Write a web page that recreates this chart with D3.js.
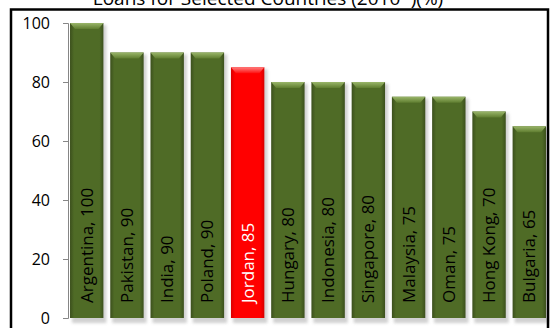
<!DOCTYPE html>
<html>
<head>
<meta charset="utf-8">
<script src="https://cdn.jsdelivr.net/npm/d3@7"></script>
<style>
  body { margin: 0; background: #fff; }
  text { font-family: "Open Sans", "Noto Sans", sans-serif; }
</style>
</head>
<body>
<svg id="chart" width="550" height="328"></svg>
<script>
// data
var countries = ["Argentina", "Pakistan", "India", "Poland", "Jordan", "Hungary", "Indonesia", "Singapore", "Malaysia", "Oman", "Hong Kong", "Bulgaria"];
var shares = [100, 90, 90, 90, 85, 80, 80, 80, 75, 75, 70, 65];
var yTicks = [0, 20, 40, 60, 80, 100];
var highlight = "Jordan";
var title = "Loans for Selected Countries (2010*)(%)";

var svg = d3.select("#chart");

var x = d3.scaleBand()
    .domain(countries)
    .range([68, 548])
    .paddingInner(0.17)
    .paddingOuter(0.05);

var y = d3.scaleLinear()
    .domain([0, 100])
    .range([318, 23]);

// gradients for the bevelled bars
var defs = svg.append("defs");
function barGrad(id, edge, mid) {
    var g = defs.append("linearGradient").attr("id", id)
        .attr("x1", "0").attr("x2", "1").attr("y1", "0").attr("y2", "0");
    g.append("stop").attr("offset", "0").attr("stop-color", edge);
    g.append("stop").attr("offset", "0.12").attr("stop-color", mid);
    g.append("stop").attr("offset", "0.88").attr("stop-color", mid);
    g.append("stop").attr("offset", "1").attr("stop-color", edge);
}
barGrad("gGreen", "#3c501d", "#4f6b26");
barGrad("gRed", "#d80000", "#ff0000");
function topGrad(id, top, bottom) {
    var g = defs.append("linearGradient").attr("id", id)
        .attr("x1", "0").attr("x2", "0").attr("y1", "0").attr("y2", "1");
    g.append("stop").attr("offset", "0").attr("stop-color", top);
    g.append("stop").attr("offset", "1").attr("stop-color", bottom);
}
topGrad("tGreen", "#9ab66a", "#5f7d30");
topGrad("tRed", "#ff8080", "#ff1010");
defs.append("filter").attr("id", "blur")
    .append("feGaussianBlur").attr("stdDeviation", 1.5);

// title (cut off by the top edge, as in the original)
svg.append("text")
    .attr("x", 268)
    .attr("y", 5)
    .attr("text-anchor", "middle")
    .style("font-size", "19px")
    .attr("fill", "#000")
    .text(title);

// y axis
var yAxis = d3.axisLeft(y).tickValues(yTicks).tickSize(5).tickPadding(13);
var ax = svg.append("g").attr("transform", "translate(68,0)").call(yAxis);
ax.select(".domain").attr("stroke", "#868686");
ax.selectAll(".tick line").attr("stroke", "#868686");
ax.selectAll(".tick text").style("font-size", "16px").attr("fill", "#000")
    .style("font-family", "'Open Sans', sans-serif");

var bars = svg.append("g").selectAll("g")
    .data(countries)
    .enter()
    .append("g")
    .attr("transform", (d) => "translate(" + x(d) + ",0)");

var bw = x.bandwidth();

// soft shadow
bars.append("rect")
    .attr("x", 2)
    .attr("y", (d, i) => y(shares[i]) + 2)
    .attr("width", bw + 1)
    .attr("height", (d, i) => y(0) - y(shares[i]) + 3)
    .attr("fill", "#999")
    .attr("opacity", 0.45)
    .attr("filter", "url(#blur)");

bars.append("rect")
    .attr("y", (d, i) => y(shares[i]))
    .attr("width", bw)
    .attr("height", (d, i) => y(0) - y(shares[i]))
    .attr("fill", (d) => d === highlight ? "url(#gRed)" : "url(#gGreen)");

// bevel on top
bars.append("path")
    .attr("d", (d, i) => {
        var t = y(shares[i]);
        return "M0," + t + "H" + bw + "L" + (bw - 5) + "," + (t + 6) + "H5Z";
    })
    .attr("fill", (d) => d === highlight ? "url(#tRed)" : "url(#tGreen)");

// labels inside bars
bars.append("text")
    .attr("transform", "translate(" + (bw / 2 + 6) + "," + 303 + ") rotate(-90)")
    .attr("text-anchor", "start")
    .style("font-size", "17px")
    .attr("fill", (d) => d === highlight ? "#fff" : "#000")
    .text((d, i) => d + ", " + shares[i]);

// chart border
svg.append("rect")
    .attr("x", 11)
    .attr("y", 9.5)
    .attr("width", 537)
    .attr("height", 330)
    .attr("fill", "none")
    .attr("stroke", "#000")
    .attr("stroke-width", 2.5);
</script>
</body>
</html>
